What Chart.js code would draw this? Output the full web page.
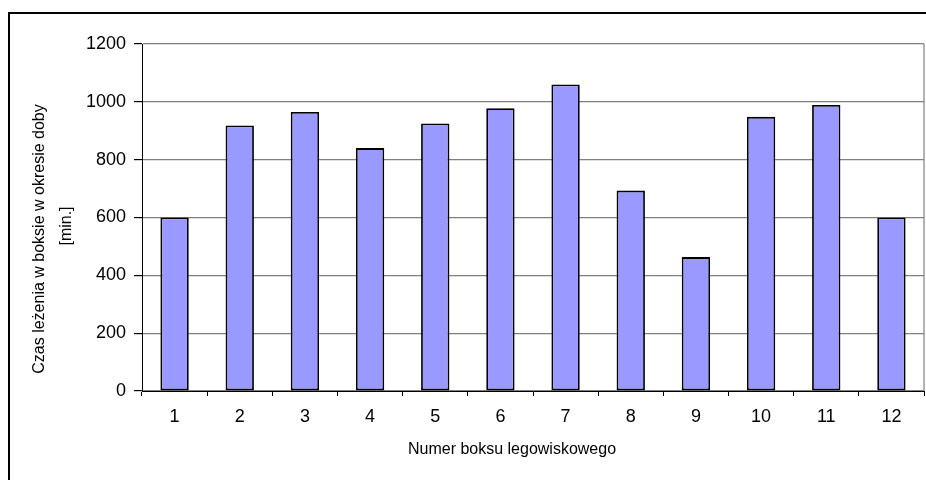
<!DOCTYPE html>
<html lang="pl">
<head>
<meta charset="UTF-8">
<title>Czas leżenia w boksie</title>
<script src="https://cdn.jsdelivr.net/npm/chart.js@4.4.1/dist/chart.umd.min.js"></script>
<style>
  html, body { margin: 0; padding: 0; background: #fff; }
  canvas { display: block; }
</style>
</head>
<body>
<canvas id="bars" width="926" height="480"></canvas>
<script>
const boxes = ['1', '2', '3', '4', '5', '6', '7', '8', '9', '10', '11', '12'];
const lyingTime = [600, 918, 965, 840, 925, 978, 1060, 693, 463, 948, 989, 600];
const yTitle = ['Czas leżenia w boksie w okresie doby', '[min.]'];
const xTitle = 'Numer boksu legowiskowego';

const FONT = '"Liberation Sans", Arial, sans-serif';

// frame, right edge of plot and axis titles
const decor = {
    id: 'decor',
    beforeDraw(chart) {
        const ctx = chart.ctx;
        ctx.save();
        ctx.fillStyle = '#fff';
        ctx.fillRect(0, 0, chart.width, chart.height);
        ctx.restore();
    },
    afterDraw(chart) {
        const ctx = chart.ctx;
        const a = chart.chartArea;
        ctx.save();
        ctx.strokeStyle = '#808080';
        ctx.lineWidth = 1.2;
        ctx.beginPath();
        ctx.moveTo(a.right, a.top);
        ctx.lineTo(a.right, a.bottom);
        ctx.stroke();

        ctx.strokeStyle = '#000';
        ctx.lineWidth = 2;
        ctx.beginPath();
        ctx.moveTo(9, chart.height);
        ctx.lineTo(9, 13);
        ctx.lineTo(chart.width, 13);
        ctx.stroke();

        ctx.fillStyle = '#000';
        ctx.font = '16px ' + FONT;
        ctx.textAlign = 'center';
        ctx.textBaseline = 'middle';
        ctx.fillText(xTitle, 512, 450);

        ctx.translate(40, 239);
        ctx.rotate(-Math.PI / 2);
        ctx.fillText(yTitle[0], 0, 0);
        ctx.fillText(yTitle[1], 13, 27);
        ctx.restore();
    }
};

new Chart(document.getElementById('bars'), {
    type: 'bar',
    data: {
        labels: boxes,
        datasets: [{
            data: lyingTime,
            backgroundColor: '#9999FF',
            borderColor: '#000',
            borderWidth: 1.8,
            borderSkipped: false,
            barPercentage: 0.435,
            categoryPercentage: 1
        }]
    },
    options: {
        responsive: false,
        animation: false,
        devicePixelRatio: 1,
        layout: { padding: { top: 44, right: 2, left: 0, bottom: 0 } },
        plugins: {
            legend: { display: false },
            tooltip: { enabled: false }
        },
        scales: {
            x: {
                afterFit(scale) { scale.height = 89; },
                grid: {
                    drawOnChartArea: false,
                    drawTicks: true,
                    tickLength: 5,
                    tickColor: '#000'
                },
                border: { color: '#000', width: 1 },
                ticks: {
                    color: '#000',
                    padding: 10,
                    font: { family: FONT, size: 18 }
                }
            },
            y: {
                min: 0,
                max: 1200,
                afterFit(scale) { scale.width = 142; },
                grid: {
                    color: '#808080',
                    lineWidth: 1.2,
                    tickLength: 8,
                    tickColor: '#000'
                },
                border: { color: '#000', width: 1 },
                ticks: {
                    stepSize: 200,
                    color: '#000',
                    padding: 8,
                    font: { family: FONT, size: 18 },
                    callback: v => String(v)
                }
            }
        }
    },
    plugins: [decor]
});
</script>
</body>
</html>
